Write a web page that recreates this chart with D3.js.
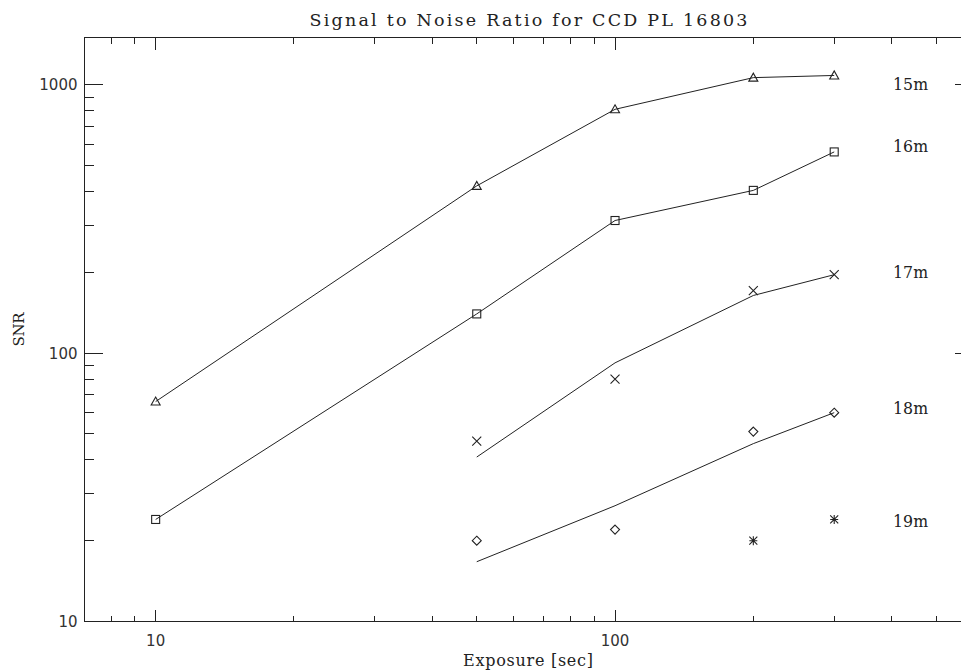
<!DOCTYPE html>
<html>
<head>
<meta charset="utf-8">
<script src="https://cdn.jsdelivr.net/npm/d3@7"></script>
<style>
  html, body { margin: 0; padding: 0; background: #fff; }
  svg { display: block; }
</style>
</head>
<body>
<svg id="chart" width="961" height="671"></svg>
<script>
// ---- data ----
const exposures = [10, 50, 100, 200, 300];
const snr15 = [66, 420, 810, 1063, 1083];
const snr16 = [24, 140, 312, 404, 562];
const exposuresFaint = [50, 100, 200, 300];
const snr17 = [47, 80, 171, 196];
const snr17Model = [41, 92, 164, 196];
const snr18 = [20, 22, 51, 60];
const snr18Model = [16.7, 27, 46, 60];
const exposures19 = [200, 300];
const snr19 = [20, 24];
const seriesLabels = ["15m", "16m", "17m", "18m", "19m"];
const labelSnr = [1000, 590, 200, 62, 23.5];
const labelExposure = 403;
const xMajorTicks = [10, 100];
const xMinorTicks = [8, 9, 20, 30, 40, 50, 60, 70, 80, 90, 200, 300, 400, 500];
const yMajorTicks = [10, 100, 1000];
const yMinorTicks = [20, 30, 40, 50, 60, 70, 80, 90, 200, 300, 400, 500, 600, 700, 800, 900];
const xDomain = [7, 600];
const yDomain = [10, 1500];
const title = "Signal to Noise Ratio for CCD PL 16803";
const xTitle = "Exposure [sec]";
const yTitle = "SNR";

// ---- layout ----
const svg = d3.select("#chart");
const L = 84.5, R = 972.5, T = 37.5, B = 621.5;
const x = d3.scaleLog().domain(xDomain).range([L, R]);
const y = d3.scaleLog().domain(yDomain).range([B, T]);
const ink = "#222";
const serif = "'DejaVu Serif', 'Liberation Serif', serif";
const sans = "'DejaVu Sans', 'Liberation Sans', sans-serif";

// frame
const frame = svg.append("g").attr("stroke", ink).attr("stroke-width", 1).attr("fill", "none").attr("shape-rendering", "crispEdges");
frame.append("rect").attr("x", L).attr("y", T).attr("width", R - L).attr("height", B - T);

const xMajLen = 12, xMinLen = 6, yMajLen = 18, yMinLen = 9;
xMajorTicks.forEach(v => {
  frame.append("line").attr("x1", x(v)).attr("x2", x(v)).attr("y1", B).attr("y2", B - xMajLen);
  frame.append("line").attr("x1", x(v)).attr("x2", x(v)).attr("y1", T).attr("y2", T + xMajLen);
});
xMinorTicks.forEach(v => {
  frame.append("line").attr("x1", x(v)).attr("x2", x(v)).attr("y1", B).attr("y2", B - xMinLen);
  frame.append("line").attr("x1", x(v)).attr("x2", x(v)).attr("y1", T).attr("y2", T + xMinLen);
});
yMajorTicks.forEach(v => {
  frame.append("line").attr("y1", y(v)).attr("y2", y(v)).attr("x1", L).attr("x2", L + yMajLen);
  frame.append("line").attr("y1", y(v)).attr("y2", y(v)).attr("x1", R).attr("x2", R - yMajLen);
});
yMinorTicks.forEach(v => {
  frame.append("line").attr("y1", y(v)).attr("y2", y(v)).attr("x1", L).attr("x2", L + yMinLen);
  frame.append("line").attr("y1", y(v)).attr("y2", y(v)).attr("x1", R).attr("x2", R - yMinLen);
});

// tick labels
const tl = svg.append("g").attr("fill", "#333").attr("font-family", sans).attr("font-size", 15);
xMajorTicks.forEach(v => {
  tl.append("text").attr("x", x(v)).attr("y", 646).attr("text-anchor", "middle").text(d3.format("d")(v));
});
yMajorTicks.forEach(v => {
  tl.append("text").attr("x", L - 7).attr("y", y(v) + 5.5).attr("text-anchor", "end").text(d3.format("d")(v));
});

// titles
svg.append("text").attr("x", (L + R) / 2).attr("y", 26).attr("text-anchor", "middle")
  .attr("font-family", serif).attr("font-size", 17.5).attr("fill", "#222")
  .attr("textLength", 438).attr("lengthAdjust", "spacing").text(title);
svg.append("text").attr("x", 528).attr("y", 666).attr("text-anchor", "middle")
  .attr("font-family", serif).attr("font-size", 16).attr("fill", "#222")
  .attr("textLength", 130).attr("lengthAdjust", "spacing").text(xTitle);
svg.append("text").attr("transform", `translate(24, ${(T + B) / 2}) rotate(-90)`).attr("text-anchor", "middle")
  .attr("font-family", serif).attr("font-size", 15).attr("fill", "#222")
  .attr("textLength", 34).attr("lengthAdjust", "spacing").text(yTitle);

// lines
const line = d3.line().x(d => x(d[0])).y(d => y(d[1]));
const lineG = svg.append("g").attr("stroke", ink).attr("stroke-width", 1).attr("fill", "none");
lineG.append("path").attr("d", line(d3.zip(exposures, snr15)));
lineG.append("path").attr("d", line(d3.zip(exposures, snr16)));
lineG.append("path").attr("d", line(d3.zip(exposuresFaint, snr17Model)));
lineG.append("path").attr("d", line(d3.zip(exposuresFaint, snr18Model)));

// markers
const mk = svg.append("g").attr("stroke", ink).attr("stroke-width", 1.1).attr("fill", "none");
function triangle(cx, cy) {
  mk.append("path").attr("d", `M${cx - 4.5},${cy + 3.5} L${cx + 4.5},${cy + 3.5} L${cx},${cy - 4.5} Z`);
}
function square(cx, cy) {
  mk.append("rect").attr("x", cx - 4).attr("y", cy - 4).attr("width", 8).attr("height", 8);
}
function cross(cx, cy) {
  mk.append("path").attr("d", `M${cx - 4.5},${cy - 4.5} L${cx + 4.5},${cy + 4.5} M${cx - 4.5},${cy + 4.5} L${cx + 4.5},${cy - 4.5}`);
}
function diamond(cx, cy) {
  mk.append("path").attr("d", `M${cx},${cy - 4.5} L${cx + 4.5},${cy} L${cx},${cy + 4.5} L${cx - 4.5},${cy} Z`);
}
function asterisk(cx, cy) {
  mk.append("path").attr("d", `M${cx - 4},${cy - 4} L${cx + 4},${cy + 4} M${cx - 4},${cy + 4} L${cx + 4},${cy - 4} M${cx},${cy - 4.5} L${cx},${cy + 4.5} M${cx - 4},${cy} L${cx + 4},${cy}`);
}
exposures.forEach((e, i) => triangle(x(e), y(snr15[i])));
exposures.forEach((e, i) => square(x(e), y(snr16[i])));
exposuresFaint.forEach((e, i) => cross(x(e), y(snr17[i])));
exposuresFaint.forEach((e, i) => diamond(x(e), y(snr18[i])));
exposures19.forEach((e, i) => asterisk(x(e), y(snr19[i])));

// series labels
const lab = svg.append("g").attr("font-family", serif).attr("font-size", 16).attr("fill", "#222");
seriesLabels.forEach((s, i) => {
  lab.append("text").attr("x", x(labelExposure)).attr("y", y(labelSnr[i]) + 5.5)
    .attr("textLength", 35).attr("lengthAdjust", "spacingAndGlyphs").text(s);
});
</script>
</body>
</html>
